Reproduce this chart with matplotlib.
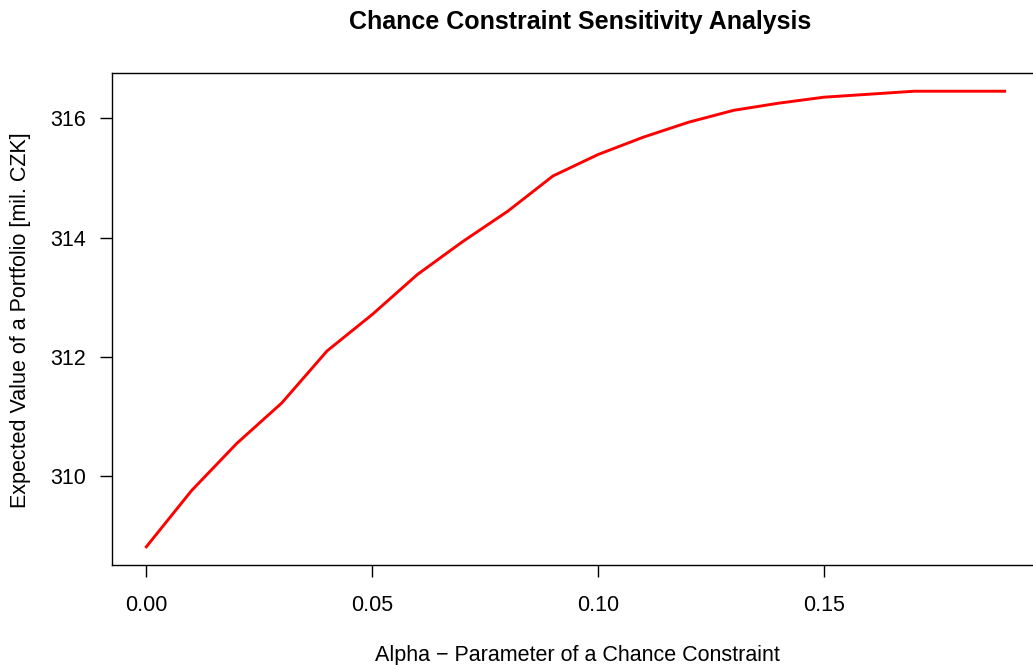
import matplotlib
matplotlib.use('Agg')
from matplotlib import pyplot as plt

plt.rcParams['font.family'] = ['Liberation Sans', 'DejaVu Sans']

alpha = [0.00, 0.01, 0.02, 0.03, 0.04, 0.05, 0.06, 0.07, 0.08, 0.09,
         0.10, 0.11, 0.12, 0.13, 0.14, 0.15, 0.16, 0.17, 0.18, 0.19]
expected_value = [308.82, 309.76, 310.55, 311.23, 312.10, 312.71, 313.38,
                  313.93, 314.44, 315.03, 315.39, 315.68, 315.93, 316.13,
                  316.25, 316.35, 316.40, 316.45, 316.45, 316.45]
x_ticks = [0.00, 0.05, 0.10, 0.15]
y_ticks = [310, 312, 314, 316]

W, H = 1033, 665
fig = plt.figure(figsize=(W / 100, H / 100), dpi=100)
# the frame runs a bit past the right edge of the picture, as in the original
ax = fig.add_axes([112 / W, 1 - 565 / H, 927 / W, 492 / H])
ax.plot(alpha, expected_value, color='red', linewidth=2.1)

xr = max(alpha) - min(alpha)
yr = max(expected_value) - min(expected_value)
ax.set_xlim(min(alpha) - 0.04 * xr, max(alpha) + 0.04 * xr)
ax.set_ylim(min(expected_value) - 0.04 * yr, max(expected_value) + 0.04 * yr)

ax.set_xticks(x_ticks)
ax.set_xticklabels(['%.2f' % t for t in x_ticks])
ax.set_yticks(y_ticks)
ax.set_yticklabels([str(t) for t in y_ticks])
ax.tick_params(direction='out', length=8.5, width=1, labelsize=15.5)
ax.tick_params(axis='x', pad=13)
ax.tick_params(axis='y', pad=10)
for s in ax.spines.values():
  s.set_linewidth(1)

fig.text(577 / W, 1 - 655 / H, 'Alpha \u2212 Parameter of a Chance Constraint',
         ha='center', va='center', fontsize=15.5)
fig.text(21 / W, 1 - 320 / H, 'Expected Value of a Portfolio [mil. CZK]',
         ha='center', va='center', rotation=90, fontsize=15.5)
fig.text(580 / W, 1 - 22 / H, 'Chance Constraint Sensitivity Analysis',
         ha='center', va='center', fontsize=18, fontweight='bold')

fig.savefig('out.png', dpi=100)
